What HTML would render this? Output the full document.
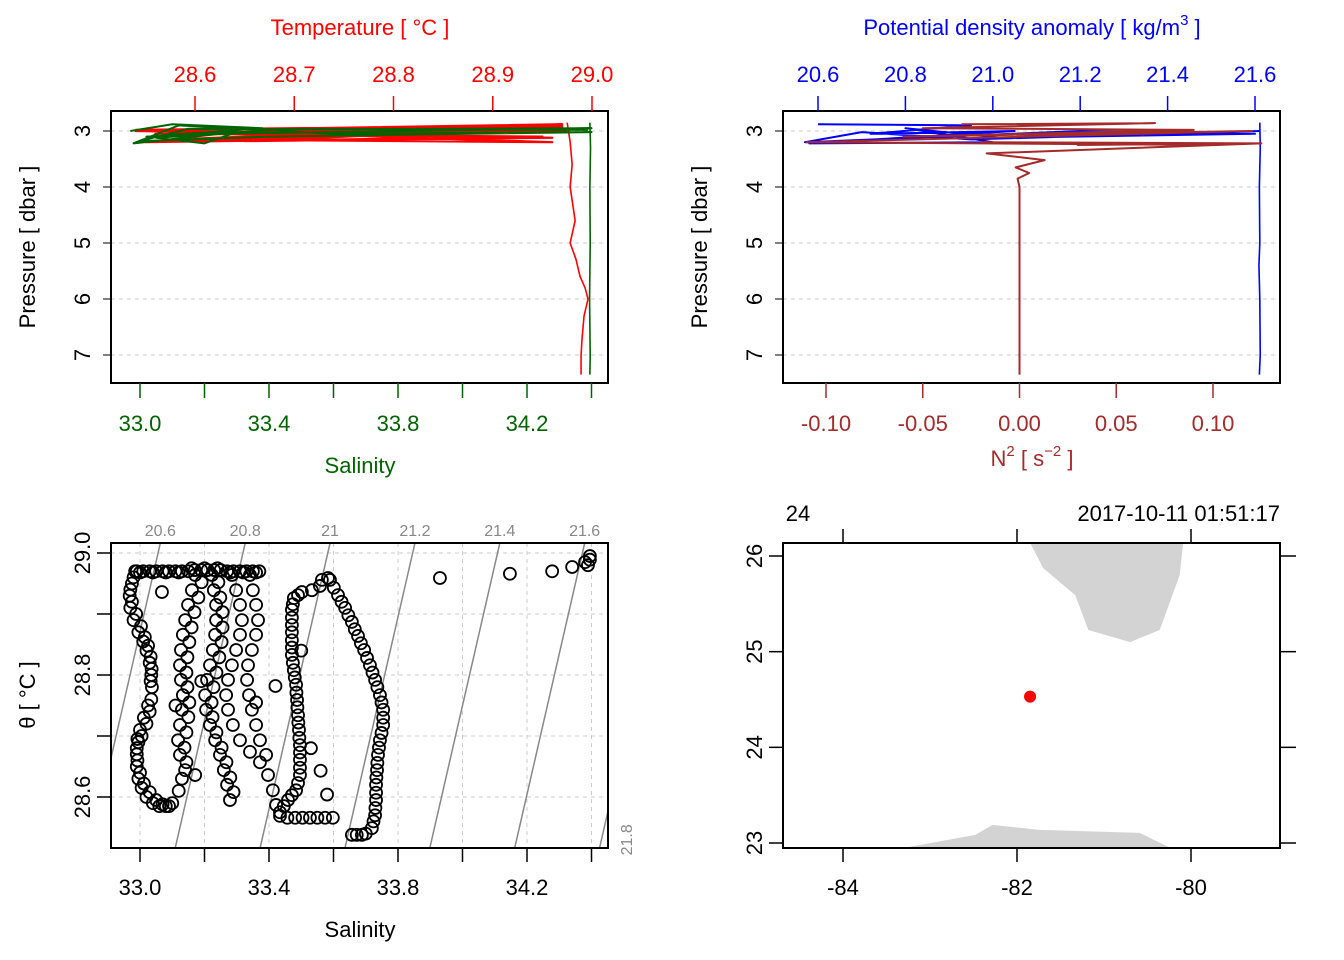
<!DOCTYPE html>
<html><head><meta charset="utf-8">
<style>
html,body{margin:0;padding:0;background:#fff;}
svg{display:block;font-family:"Liberation Sans",Arial,sans-serif;}
</style></head>
<body>
<svg id="fig" width="1344" height="960" viewBox="0 0 1344 960" xmlns="http://www.w3.org/2000/svg"></svg>
<script>
// ---------- DATA ----------
const surfTemp = [28.54,28.97,28.56,28.96,28.60,28.97,28.55,28.95,28.58,28.97,28.65,28.96,28.54,28.97,28.58,28.96,28.70,28.975];
const surfTempP = [2.98,2.9,3.05,2.92,3.15,2.95,3.2,3.1,3.05,2.93,3.18,3.12,3.0,2.88,3.15,3.2,3.05,3.0];
const deepTemp = [28.975,28.978,28.980,28.978,28.983,28.978,28.984,28.988,28.993,28.996,28.992,28.990,28.989,28.989];
const deepTempP = [2.85,3.2,3.6,4.0,4.6,5.0,5.3,5.6,5.8,6.0,6.3,6.7,7.0,7.35];
const surfSal = [32.97,33.10,33.38,33.02,33.30,33.20,33.05,33.45,34.40,33.25,32.98,33.12,33.60,34.40,33.40,33.00,33.15,34.39];
const surfSalP = [3.0,2.88,2.95,3.1,3.02,3.22,3.12,2.97,2.95,3.05,3.22,2.9,3.05,3.02,3.1,3.18,2.96,2.98];
const deepSal = [34.395,34.397,34.395,34.396,34.395,34.394,34.396,34.395];
const deepSalP = [2.85,3.3,4.0,5.0,5.5,6.0,7.0,7.35];
const surfSig = [20.60,20.95,20.72,21.05,20.58,21.00,20.80,21.02,21.60,21.20,20.57,20.70,20.95,21.61];
const surfSigP = [2.88,2.90,3.05,3.0,3.22,3.20,2.95,3.12,3.05,3.0,3.2,3.02,3.15,3.0];
const deepSig = [21.611,21.612,21.610,21.611,21.609,21.611,21.612,21.610];
const deepSigP = [2.85,3.3,4.0,5.0,5.4,6.0,7.0,7.35];
const n2Val = [-0.03,0.07,-0.05,0.09,-0.06,0.12,-0.11,0.10,-0.02,0.125,0.03,0.125,-0.017,0.013,-0.002,0.005,-0.001,0.0,0.0,0.0,0.0];
const n2P = [2.88,2.86,2.95,2.98,3.1,3.0,3.2,3.25,3.2,3.22,3.25,3.22,3.4,3.52,3.65,3.75,3.85,4.0,5.0,6.0,7.35];
// TS strands
const salL = [32.985,32.975,32.968,32.97,32.98,32.995,33.01,33.02,33.03,33.035,33.037,33.035,33.03,33.02,33.005,32.995,32.99,32.99,32.995,33.005,33.02,33.04,33.06,33.08,33.1,33.12,33.13];
const thL = [28.97,28.95,28.93,28.91,28.89,28.87,28.855,28.84,28.82,28.80,28.78,28.76,28.74,28.72,28.70,28.69,28.67,28.65,28.63,28.615,28.60,28.59,28.585,28.585,28.59,28.61,28.63];
const salLb = [32.98,32.97,32.975,32.988,33.003,33.015,33.025,33.033,33.036,33.033,33.025,33.012,33.0,32.992,32.99,32.992,33.0,33.012,33.03,33.05,33.07,33.09];
const thLb = [28.96,28.94,28.92,28.90,28.88,28.862,28.848,28.83,28.81,28.79,28.75,28.73,28.71,28.695,28.68,28.66,28.64,28.622,28.608,28.595,28.588,28.585];
const sal2 = [33.171,33.161,33.149,33.140,33.133,33.127,33.124,33.127,33.133,33.130,33.124,33.118,33.124,33.140,33.171];
const th2 = [28.964,28.939,28.915,28.890,28.866,28.841,28.816,28.792,28.767,28.743,28.718,28.693,28.669,28.644,28.636];
const sal2b = [33.191,33.181,33.169,33.160,33.153,33.147,33.144,33.147,33.153,33.150,33.144,33.138,33.144];
const th2b = [28.952,28.927,28.903,28.878,28.854,28.829,28.804,28.780,28.755,28.731,28.706,28.681,28.657];
const sal3 = [33.223,33.229,33.236,33.236,33.233,33.226,33.217,33.208,33.202,33.205,33.217,33.233,33.248,33.260,33.270,33.279];
const th3 = [28.964,28.939,28.915,28.890,28.866,28.841,28.816,28.792,28.767,28.743,28.718,28.693,28.669,28.644,28.620,28.595];
const sal3b = [33.243,33.249,33.256,33.256,33.253,33.246,33.237,33.228,33.222,33.225,33.237,33.253,33.268,33.280,33.290];
const th3b = [28.952,28.927,28.903,28.878,28.854,28.829,28.804,28.780,28.755,28.731,28.706,28.681,28.657,28.632,28.608];
const sal4 = [33.285,33.298,33.310,33.316,33.310,33.298,33.285,33.273,33.267,33.273,33.288,33.310,33.341,33.372,33.397,33.412,33.422,33.434,33.457,33.481,33.504,33.527,33.55,33.574,33.598];
const th4 = [28.964,28.939,28.915,28.890,28.866,28.841,28.816,28.792,28.767,28.743,28.718,28.693,28.674,28.657,28.636,28.611,28.587,28.569,28.566,28.566,28.566,28.566,28.566,28.566,28.566];
const sal5 = [33.341,33.350,33.360,33.366,33.360,33.347,33.335,33.332,33.338,33.347,33.360,33.372,33.391];
const th5 = [28.964,28.939,28.915,28.890,28.866,28.841,28.816,28.792,28.767,28.743,28.718,28.693,28.669];
const sal6 = [33.434,33.459,33.484,33.496,33.496,33.496,33.493,33.490,33.487,33.484,33.477,33.471,33.471,33.471,33.471,33.477,33.502,33.533,33.558,33.564,33.583];
const th6 = [28.575,28.595,28.611,28.636,28.661,28.685,28.710,28.734,28.759,28.784,28.808,28.833,28.857,28.882,28.907,28.926,28.936,28.939,28.946,28.956,28.959];
const sal6b = [33.446,33.471,33.490,33.496,33.496,33.494,33.491,33.488,33.485,33.480,33.474,33.471,33.471,33.471,33.474,33.490];
const th6b = [28.585,28.603,28.623,28.648,28.673,28.697,28.722,28.747,28.771,28.796,28.820,28.845,28.870,28.894,28.916,28.931];
const sal7 = [33.589,33.614,33.636,33.657,33.676,33.695,33.713,33.729,33.744,33.754,33.754,33.744,33.738,33.735,33.732,33.732,33.729,33.719,33.688,33.657];
const th7 = [28.956,28.931,28.910,28.887,28.864,28.841,28.816,28.792,28.767,28.743,28.718,28.693,28.669,28.644,28.620,28.595,28.570,28.549,28.538,28.538];
const sal7b = [33.601,33.625,33.646,33.666,33.685,33.704,33.721,33.736,33.749,33.754,33.749,33.741,33.736,33.733,33.732,33.730,33.724,33.70,33.672];
const th7b = [28.943,28.920,28.898,28.875,28.852,28.828,28.804,28.780,28.755,28.730,28.705,28.681,28.656,28.632,28.607,28.582,28.56,28.54,28.538];
const salTop = [32.99,33.01,33.03,33.05,33.07,33.09,33.11,33.13,33.15,33.17,33.19,33.21,33.23,33.25,33.27,33.29,33.31,33.33,33.35,33.37,33.00,33.04,33.08,33.12,33.16,33.20,33.24,33.28,33.32,33.36];
const thTop = [28.97,28.97,28.97,28.97,28.97,28.97,28.97,28.97,28.97,28.972,28.972,28.972,28.972,28.972,28.97,28.97,28.97,28.97,28.97,28.97,28.968,28.968,28.968,28.968,28.975,28.975,28.975,28.968,28.968,28.968];
const salSc = [33.068,33.930,34.147,34.278,34.340,34.380,34.395,34.389,34.395,33.42,33.36,33.53,33.56,33.58,33.50,33.11,33.19];
const thSc = [28.936,28.959,28.966,28.970,28.977,28.985,28.995,28.980,28.989,28.782,28.755,28.680,28.643,28.604,28.840,28.750,28.790];
const sigmaLevels = [20.6,20.8,21.0,21.2,21.4,21.6,21.8];
// Map
const stationLon = [-81.85];
const stationLat = [24.53];
const landNorthLon = [-81.85,-81.70,-81.33,-81.18,-80.70,-80.36,-80.13,-80.09];
const landNorthLat = [26.14,25.875,25.59,25.227,25.10,25.227,25.80,26.14];
const landSouthLon = [-83.29,-82.48,-82.28,-81.74,-80.59,-80.24];
const landSouthLat = [22.95,23.085,23.19,23.137,23.106,22.95];

// ---------- HELPERS ----------
const NS="http://www.w3.org/2000/svg";
const svg=document.getElementById('fig');
function mk(tag,attrs,parent){const e=document.createElementNS(NS,tag);for(const k in attrs)e.setAttribute(k,attrs[k]);(parent||svg).appendChild(e);return e;}
function txt(s,x,y,attrs,parent){const e=mk('text',Object.assign({x:x,y:y,'font-size':22,'text-anchor':'middle'},attrs||{}),parent);e.textContent=s;return e;}
function lin(a0,p0,a1,p1){return v=>p0+(v-a0)*(p1-p0)/(a1-a0);}
function poly(xs,ys,fx,fy,stroke,w,parent){return mk('polyline',{points:xs.map((v,i)=>fx(v)+','+fy(ys[i])).join(' '),fill:'none',stroke:stroke,'stroke-width':w||1.6,'stroke-linejoin':'round'},parent);}
const defs=mk('defs',{});
function clip(id,x,y,w,h){const c=mk('clipPath',{id:id},defs);mk('rect',{x:x,y:y,width:w,height:h},c);}

// ---------- PANEL 1 ----------
const g1=mk('g',{});


const pY1=lin(3,131,7,355), tX=lin(28.6,195,29.0,592), sX=lin(33.0,140,34.2,527);
clip('c1',111,111,497,272);
[3,4,5,6,7].forEach(p=>{mk('line',{x1:111,x2:608,y1:pY1(p),y2:pY1(p),stroke:'#ccc','stroke-dasharray':'4,4'},g1);
 txt(String(p),0,0,{transform:`translate(82,${pY1(p)}) rotate(-90)`,dy:8},g1);mk('line',{x1:103,x2:111,y1:pY1(p),y2:pY1(p),stroke:'#000'},g1);});
const l1=mk('g',{'clip-path':'url(#c1)'},g1);
poly(surfTemp,surfTempP,tX,pY1,'#ff0000',2.2,l1);
poly(deepTemp,deepTempP,tX,pY1,'#ff0000',1.6,l1);
poly(surfSal,surfSalP,sX,pY1,'#006400',2,l1);
poly(deepSal,deepSalP,sX,pY1,'#006400',1.6,l1);
mk('rect',{x:111,y:111,width:497,height:272,fill:'none',stroke:'#000','stroke-width':2},g1);
[28.6,28.7,28.8,28.9,29.0].forEach(t=>{mk('line',{x1:tX(t),x2:tX(t),y1:96,y2:111,stroke:'#ff0000','stroke-width':1.5},g1);txt(t.toFixed(1),tX(t),82,{fill:'#ff0000'},g1);});
[33.0,33.2,33.4,33.6,33.8,34.0,34.2,34.4].forEach((s,i)=>{mk('line',{x1:sX(s),x2:sX(s),y1:383,y2:398,stroke:'#006400','stroke-width':1.5},g1);if(i%2==0&&s<34.3)txt(s.toFixed(1),sX(s),431,{fill:'#006400'},g1);});
const tt=txt('Temperature [ °C ]',360,35,{fill:'#ff0000'},g1);

const st=txt('Salinity',360,473,{fill:'#006400'},g1);

const pt1=txt('Pressure [ dbar ]',0,0,{transform:'translate(35,247) rotate(-90)'},g1);


// ---------- PANEL 2 ----------
const g2=mk('g',{});


const dX=lin(20.6,818,21.6,1255), nX=lin(-0.10,826,0.10,1213);
clip('c2',783,111,497,272);
[3,4,5,6,7].forEach(p=>{mk('line',{x1:783,x2:1280,y1:pY1(p),y2:pY1(p),stroke:'#ccc','stroke-dasharray':'4,4'},g2);
 txt(String(p),0,0,{transform:`translate(754,${pY1(p)}) rotate(-90)`,dy:8},g2);mk('line',{x1:775,x2:783,y1:pY1(p),y2:pY1(p),stroke:'#000'},g2);});
const l2=mk('g',{'clip-path':'url(#c2)'},g2);
poly(surfSig,surfSigP,dX,pY1,'#0000ff',2,l2);
poly(deepSig,deepSigP,dX,pY1,'#0000ff',1.6,l2);
poly(n2Val,n2P,nX,pY1,'#a52a2a',2,l2);
mk('rect',{x:783,y:111,width:497,height:272,fill:'none',stroke:'#000','stroke-width':2},g2);
[20.6,20.8,21.0,21.2,21.4,21.6].forEach(d=>{mk('line',{x1:dX(d),x2:dX(d),y1:96,y2:111,stroke:'#0000ff','stroke-width':1.5},g2);txt(d.toFixed(1),dX(d),82,{fill:'#0000ff'},g2);});
[-0.10,-0.05,0.0,0.05,0.10].forEach(n=>{mk('line',{x1:nX(n),x2:nX(n),y1:383,y2:398,stroke:'#a52a2a','stroke-width':1.5},g2);txt(n.toFixed(2),nX(n),431,{fill:'#a52a2a'},g2);});
const dt=mk('text',{x:1032,y:35,'font-size':22,'text-anchor':'middle',fill:'#0000ff'},g2);
dt.innerHTML='Potential density anomaly [ kg/m<tspan dy="-10" font-size="15">3</tspan><tspan dy="10"> ]</tspan>';

const nt=mk('text',{x:1032,y:466,'font-size':22,'text-anchor':'middle',fill:'#a52a2a'},g2);
nt.innerHTML='N<tspan dy="-10" font-size="15">2</tspan><tspan dy="10"> [ s</tspan><tspan dy="-10" font-size="15">−2</tspan><tspan dy="10"> ]</tspan>';

const pt2=txt('Pressure [ dbar ]',0,0,{transform:'translate(707,247) rotate(-90)'},g2);


// ---------- PANEL 3 (TS) ----------
const g3=mk('g',{});


const tsX=lin(33.0,140,34.2,527), tsY=lin(29.0,553,28.6,797);
clip('c3',111,543,497,305);
[33.0,33.2,33.4,33.6,33.8,34.0,34.2,34.4].forEach((s,i)=>{mk('line',{x1:tsX(s),x2:tsX(s),y1:543,y2:848,stroke:'#ccc','stroke-dasharray':'4,4'},g3);
 mk('line',{x1:tsX(s),x2:tsX(s),y1:848,y2:862,stroke:'#000','stroke-width':1.5},g3);if(i%2==0&&s<34.3)txt(s.toFixed(1),tsX(s),895,{},g3);});
[28.6,28.7,28.8,28.9,29.0].forEach((t,i)=>{mk('line',{x1:111,x2:608,y1:tsY(t),y2:tsY(t),stroke:'#ccc','stroke-dasharray':'4,4'},g3);
 mk('line',{x1:97,x2:111,y1:tsY(t),y2:tsY(t),stroke:'#000','stroke-width':1.5},g3);if(i%2==0)txt(t.toFixed(1),0,0,{transform:`translate(82,${tsY(t)}) rotate(-90)`,dy:8},g3);});
const l3=mk('g',{'clip-path':'url(#c3)'},g3);
function sAt(sig,T){return 33.056+(sig-20.6+0.33*(T-29))/0.76;}
sigmaLevels.forEach(sig=>{
  const Ta=29.02,Tb=28.51;
  const ln=mk('line',{x1:tsX(sAt(sig,Ta)),y1:tsY(Ta),x2:tsX(sAt(sig,Tb)),y2:tsY(Tb),stroke:'#888','stroke-width':1.5},l3);
  
  const xt=tsX(sAt(sig,29.016));
  if(xt<600) txt(sig===21?'21':sig.toFixed(1),xt,536,{'font-size':16,fill:'#888'},g3);
  else txt(sig.toFixed(1),0,0,{'font-size':16,fill:'#888',transform:`translate(632,${tsY(28.52)-6}) rotate(-90)`},g3);
});
const pts=mk('g',{'clip-path':'url(#c3)'},g3);
[[salTop,thTop],[salL,thL],[salLb,thLb],[sal2,th2],[sal2b,th2b],[sal3,th3],[sal3b,th3b],[sal4,th4],[sal5,th5],[sal6,th6],[sal6b,th6b],[sal7,th7],[sal7b,th7b],[salSc,thSc]].forEach(([S,T])=>{
  S.forEach((s,i)=>{const c=mk('circle',{cx:tsX(s),cy:tsY(T[i]),r:6,fill:'none',stroke:'#000','stroke-width':1.8},pts);
  });
});
mk('rect',{x:111,y:543,width:497,height:305,fill:'none',stroke:'#000','stroke-width':2},g3);
const st3=txt('Salinity',360,937,{},g3);

const th3t=txt('θ [ °C ]',0,0,{transform:'translate(35,695) rotate(-90)'},g3);


// ---------- PANEL 4 (map) ----------
const g4=mk('g',{});


const lonX=lin(-84,843,-80,1191), latY=lin(26,556,23,843);
clip('c4',783,543,497,305);
const l4=mk('g',{'clip-path':'url(#c4)'},g4);
const ln1=mk('polygon',{points:landNorthLon.map((v,i)=>lonX(v)+','+latY(landNorthLat[i])).join(' '),fill:'#d3d3d3'},l4);

const ln2=mk('polygon',{points:landSouthLon.map((v,i)=>lonX(v)+','+latY(landSouthLat[i])).join(' '),fill:'#d3d3d3'},l4);

stationLon.forEach((lo,i)=>{const c=mk('circle',{cx:lonX(lo),cy:latY(stationLat[i]),r:6,fill:'#ff0000'},l4);
 });
mk('rect',{x:783,y:543,width:497,height:305,fill:'none',stroke:'#000','stroke-width':2},g4);
[-84,-82,-80].forEach(lo=>{mk('line',{x1:lonX(lo),x2:lonX(lo),y1:848,y2:862,stroke:'#000','stroke-width':1.5},g4);
 mk('line',{x1:lonX(lo),x2:lonX(lo),y1:529,y2:543,stroke:'#000','stroke-width':1.5},g4);txt(String(lo),lonX(lo),895,{},g4);});
[23,24,25,26].forEach(la=>{mk('line',{x1:769,x2:783,y1:latY(la),y2:latY(la),stroke:'#000','stroke-width':1.5},g4);
 mk('line',{x1:1280,x2:1296,y1:latY(la),y2:latY(la),stroke:'#000','stroke-width':1.5},g4);
 txt(String(la),0,0,{transform:`translate(754,${latY(la)}) rotate(-90)`,dy:8},g4);});
txt('24',798,521,{},g4);
const dtt=txt('2017-10-11 01:51:17',1280,521,{'text-anchor':'end'},g4);

</script>
</body></html>
